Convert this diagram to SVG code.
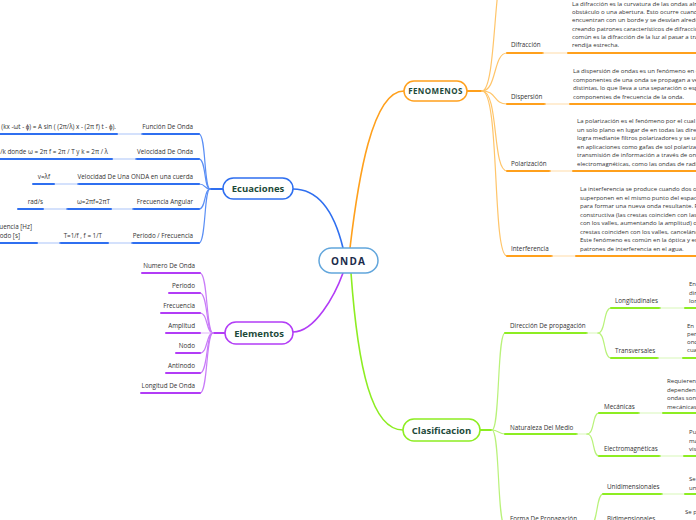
<svg xmlns="http://www.w3.org/2000/svg" width="696" height="520" viewBox="0 0 696 520">
<style>
.lbl{font-family:"Open Sans","Liberation Sans",sans-serif;font-size:6.3px;fill:#333}
.par{font-family:"Open Sans","Liberation Sans",sans-serif;font-size:6.05px;fill:#333}
.nt{font-family:"Open Sans","Liberation Sans",sans-serif;font-weight:bold;font-size:9.5px;fill:#1d4a3a;text-anchor:middle}
.e{text-anchor:end}
path,line{fill:none;stroke-linecap:round}
.ul{stroke-width:2}
.ln{stroke-width:1.2}
.b{stroke:#2f6ff0}.bl{stroke:#a9c4fa}.bc{stroke:#5b8ff5}
.o{stroke:#ffa01c}.ol{stroke:#ffdca8}.oc{stroke:#ffc56a}
.p{stroke:#b23cf6}.pl{stroke:#e2b5fb}.pc{stroke:#c97cf8}
.g{stroke:#8ded22}.gl{stroke:#d8f8b8}.gc{stroke:#b9f27a}
.box{fill:#fff;stroke-width:1.5}
</style>
<g id="connectors">
<path class="b" stroke-width="1.6" d="M293,189 C320,189 335,215 343,248"/>
<path class="o" stroke-width="1.6" d="M350,248 C358,180 372,91 404,91"/>
<path class="p" stroke-width="1.6" d="M343,273 C335,295 315,332 293,332"/>
<path class="g" stroke-width="1.6" d="M351,273 C358,370 372,430 403,430"/>
<line class="b ul" x1="210" y1="189" x2="223" y2="189"/>
<path class="bc ln" d="M199,134 C206,134 204,189 210,189"/>
<path class="bc ln" d="M199,159 C206,159 204,189 210,189"/>
<path class="bc ln" d="M199,184 C206,184 204,189 210,189"/>
<path class="bc ln" d="M199,209 C206,209 204,189 210,189"/>
<path class="bc ln" d="M199,243 C206,243 204,189 210,189"/>
<line class="b ul" x1="142" y1="134" x2="199" y2="134"/>
<line class="bl ln" x1="117" y1="134" x2="142" y2="134"/>
<line class="b ul" x1="-5" y1="134" x2="117" y2="134"/>
<line class="b ul" x1="136" y1="159" x2="199" y2="159"/>
<line class="bl ln" x1="112" y1="159" x2="136" y2="159"/>
<line class="b ul" x1="-5" y1="159" x2="112" y2="159"/>
<line class="b ul" x1="78" y1="184" x2="199" y2="184"/>
<line class="bl ln" x1="54" y1="184" x2="78" y2="184"/>
<line class="b ul" x1="33" y1="184" x2="54" y2="184"/>
<line class="b ul" x1="133" y1="209" x2="199" y2="209"/>
<line class="bl ln" x1="111" y1="209" x2="133" y2="209"/>
<line class="b ul" x1="67" y1="209" x2="111" y2="209"/>
<line class="bl ln" x1="43" y1="209" x2="67" y2="209"/>
<line class="b ul" x1="18" y1="209" x2="43" y2="209"/>
<line class="b ul" x1="132" y1="243" x2="199" y2="243"/>
<line class="bl ln" x1="108" y1="243" x2="132" y2="243"/>
<line class="b ul" x1="60" y1="243" x2="108" y2="243"/>
<line class="bl ln" x1="37" y1="243" x2="60" y2="243"/>
<line class="b ul" x1="-5" y1="243" x2="37" y2="243"/>
<line class="p ul" x1="213" y1="333" x2="225" y2="333"/>
<path class="pc ln" d="M200,273 C208,273 206,333 213,333"/>
<path class="pc ln" d="M200,293 C208,293 206,333 213,333"/>
<path class="pc ln" d="M200,313 C208,313 206,333 213,333"/>
<path class="pl ln" d="M200,333 L213,333"/>
<path class="pc ln" d="M200,353 C208,353 206,333 213,333"/>
<path class="pc ln" d="M200,373 C208,373 206,333 213,333"/>
<path class="pc ln" d="M200,393 C208,393 206,333 213,333"/>
<line class="p ul" x1="142" y1="273" x2="200" y2="273"/>
<line class="p ul" x1="169" y1="293" x2="200" y2="293"/>
<line class="p ul" x1="161" y1="313" x2="200" y2="313"/>
<line class="p ul" x1="166" y1="333" x2="200" y2="333"/>
<line class="p ul" x1="176" y1="353" x2="200" y2="353"/>
<line class="p ul" x1="166" y1="373" x2="200" y2="373"/>
<line class="p ul" x1="141" y1="393" x2="200" y2="393"/>
<line class="o ul" x1="467" y1="91" x2="482" y2="91"/>
<path class="oc ln" d="M482,91 C497,91 493,-40 507,-40"/>
<path class="oc ln" d="M482,91 C497,91 493,53 507,53"/>
<path class="oc ln" d="M482,91 C497,91 493,104 507,104"/>
<path class="oc ln" d="M482,91 C499,91 492,171 507,171"/>
<path class="oc ln" d="M482,91 C500,91 492,256 507,256"/>
<line class="o ul" x1="507" y1="53" x2="543" y2="53"/>
<line class="ol ln" x1="543" y1="53" x2="568" y2="53"/>
<line class="o ul" x1="568" y1="53" x2="700" y2="53"/>
<line class="o ul" x1="507" y1="104" x2="545" y2="104"/>
<line class="ol ln" x1="545" y1="104" x2="570" y2="104"/>
<line class="o ul" x1="570" y1="104" x2="700" y2="104"/>
<line class="o ul" x1="507" y1="171" x2="550" y2="171"/>
<line class="ol ln" x1="550" y1="171" x2="573" y2="171"/>
<line class="o ul" x1="573" y1="171" x2="700" y2="171"/>
<line class="o ul" x1="507" y1="256" x2="552" y2="256"/>
<line class="ol ln" x1="552" y1="256" x2="576" y2="256"/>
<line class="o ul" x1="576" y1="256" x2="700" y2="256"/>
<line class="g ul" x1="480" y1="430" x2="492" y2="430"/>
<path class="gc ln" d="M492,430 C500,430 497,333 505,333"/>
<path class="gc ln" d="M492,430 C498,430 499,434 505,434"/>
<path class="gc ln" d="M492,430 C500,430 497,526 505,526"/>
<line class="g ul" x1="505" y1="333" x2="587" y2="333"/>
<line class="gl ln" x1="587" y1="333" x2="598" y2="333"/>
<path class="gc ln" d="M598,333 C606,333 603,308 611,308"/>
<path class="gc ln" d="M598,333 C606,333 603,358 611,358"/>
<line class="g ul" x1="611" y1="308" x2="660" y2="308"/>
<line class="gl ln" x1="660" y1="308" x2="685" y2="308"/>
<line class="g ul" x1="685" y1="308" x2="700" y2="308"/>
<line class="g ul" x1="611" y1="358" x2="658" y2="358"/>
<line class="gl ln" x1="658" y1="358" x2="683" y2="358"/>
<line class="g ul" x1="683" y1="358" x2="700" y2="358"/>
<line class="g ul" x1="505" y1="434" x2="577" y2="434"/>
<line class="gl ln" x1="577" y1="434" x2="587" y2="434"/>
<path class="gc ln" d="M587,434 C595,434 592,413 599,413"/>
<path class="gc ln" d="M587,434 C595,434 592,456 599,456"/>
<line class="g ul" x1="599" y1="413" x2="639" y2="413"/>
<line class="gl ln" x1="639" y1="413" x2="663" y2="413"/>
<line class="g ul" x1="663" y1="413" x2="700" y2="413"/>
<line class="g ul" x1="599" y1="456" x2="660" y2="456"/>
<line class="gl ln" x1="660" y1="456" x2="684" y2="456"/>
<line class="g ul" x1="684" y1="456" x2="700" y2="456"/>
<path class="gc ln" d="M590,526 C598,526 596,494 603,494"/>
<line class="g ul" x1="603" y1="494" x2="662" y2="494"/>
<line class="gl ln" x1="662" y1="494" x2="685" y2="494"/>
<line class="g ul" x1="685" y1="494" x2="700" y2="494"/>
</g>
<g id="onda">
<rect class="box" x="319" y="248" width="59" height="25" rx="12.5" stroke="#62a6dc"/>
<text x="348.5" y="264.5" style="font-family:'Open Sans','Liberation Sans',sans-serif;font-weight:bold;font-size:10px;fill:#1b2b4b;letter-spacing:1.2px" text-anchor="middle">ONDA</text>
</g>
<g id="fenomenos">
<rect class="box o" x="404" y="81" width="63" height="20" rx="10"/>
<text class="nt" x="435.5" y="94" style="font-size:8px;letter-spacing:0.4px">FENOMENOS</text>
</g>
<g id="ecuaciones">
<rect class="box b" x="223" y="178" width="70" height="21" rx="10.5"/>
<text class="nt" x="258" y="192">Ecuaciones</text>
</g>
<g id="elementos">
<rect class="box p" x="225" y="322" width="68" height="22" rx="11"/>
<text class="nt" x="259" y="336.5">Elementos</text>
</g>
<g id="clasificacion">
<rect class="box g" x="403" y="419" width="77" height="22" rx="11"/>
<text class="nt" x="441.5" y="433.5">Clasificacion</text>
</g>
<g id="ecuaciones-children">
<text class="lbl e" x="193" y="128.5">Función De Onda</text>
<text class="lbl e" x="116" y="128.5">A sin (kx -ωt - ϕ) = A sin ( (2π/λ) x - (2π f) t - ϕ).</text>
<text class="lbl e" x="193" y="153.5">Velocidad De Onda</text>
<text class="lbl e" x="108" y="153.5">v = ω /k donde ω = 2π f = 2π / T y k = 2π / λ</text>
<text class="lbl e" x="193" y="178.5">Velocidad De Una ONDA en una cuerda</text>
<text class="lbl e" x="50" y="178.5">v=λf</text>
<text class="lbl e" x="193" y="203.5">Frecuencia Angular</text>
<text class="lbl e" x="110" y="203.5">ω=2πf=2πT</text>
<text class="lbl e" x="43" y="203.5">rad/s</text>
<text class="lbl e" x="193" y="238">Periodo / Frecuencia</text>
<text class="lbl e" x="102" y="238">T=1/f , f = 1/T</text>
<text class="lbl e" x="32" y="229">Frecuencia [Hz]</text>
<text class="lbl e" x="20" y="238">Periodo [s]</text>
</g>
<g id="elementos-children">
<text class="lbl e" x="195" y="268">Numero De Onda</text>
<text class="lbl e" x="195" y="288">Periodo</text>
<text class="lbl e" x="195" y="308">Frecuencia</text>
<text class="lbl e" x="195" y="328">Amplitud</text>
<text class="lbl e" x="195" y="348">Nodo</text>
<text class="lbl e" x="195" y="368">Antinodo</text>
<text class="lbl e" x="195" y="388">Longitud De Onda</text>
</g>
<g id="fenomenos-children">
<text class="lbl" x="511" y="47">Difracción</text>
<text class="par" x="572"><tspan x="572" y="6.2">La difracción es la curvatura de las ondas alrededor de un</tspan><tspan x="572" y="14.3">obstáculo o una abertura. Esto ocurre cuando las ondas</tspan><tspan x="572" y="22.4">encuentran con un borde y se desvían alrededor de él,</tspan><tspan x="572" y="30.5">creando patrones característicos de difracción. Un ejemplo</tspan><tspan x="572" y="38.6">común es la difracción de la luz al pasar a través de una</tspan><tspan x="572" y="46.7">rendija estrecha.</tspan></text>
<text class="lbl" x="511" y="99">Dispersión</text>
<text class="par" x="573"><tspan x="573" y="73">La dispersión de ondas es un fenómeno en el que los</tspan><tspan x="573" y="81.6">componentes de una onda se propagan a velocidades</tspan><tspan x="573" y="90.2">distintas, lo que lleva a una separación o esparcimiento de los</tspan><tspan x="573" y="98.8">componentes de frecuencia de la onda.</tspan></text>
<text class="lbl" x="511" y="166">Polarización</text>
<text class="par" x="577"><tspan x="577" y="123">La polarización es el fenómeno por el cual las ondas vibran en</tspan><tspan x="577" y="131.6">un solo plano en lugar de en todas las direcciones. Esto se</tspan><tspan x="577" y="140.2">logra mediante filtros polarizadores y se utiliza</tspan><tspan x="577" y="148.8">en aplicaciones como gafas de sol polarizadas y la</tspan><tspan x="577" y="157.4">transmisión de información a través de ondas</tspan><tspan x="577" y="166">electromagnéticas, como las ondas de radio.</tspan></text>
<text class="lbl" x="511" y="251">Interferencia</text>
<text class="par" x="580"><tspan x="580" y="191"> La interferencia se produce cuando dos ondas se</tspan><tspan x="580" y="199.6">superponen en el mismo punto del espacio</tspan><tspan x="580" y="208.1">para formar una nueva onda resultante. Puede ser</tspan><tspan x="580" y="216.7">constructiva (las crestas coinciden con las crestas y los valles</tspan><tspan x="580" y="225.3">con los valles, aumentando la amplitud) o destructiva (las</tspan><tspan x="580" y="233.9">crestas coinciden con los valles, cancelándose).</tspan><tspan x="580" y="242.4">Este fenómeno es común en la óptica y en los</tspan><tspan x="580" y="251">patrones de interferencia en el agua.</tspan></text>
</g>
<g id="clasificacion-children">
<text class="lbl" x="510" y="328">Dirección De propagación</text>
<text class="lbl" x="615" y="303">Longitudinales</text>
<text class="par"><tspan x="689" y="286">En a</tspan><tspan x="689" y="294.5">dir</tspan><tspan x="689" y="303">lon</tspan></text>
<text class="lbl" x="615" y="353">Transversales</text>
<text class="par"><tspan x="687" y="328">En</tspan><tspan x="687" y="336">per</tspan><tspan x="687" y="344">ond</tspan><tspan x="687" y="352">cua</tspan></text>
<text class="lbl" x="510" y="430">Naturaleza Del Medio</text>
<text class="lbl" x="604" y="409">Mecánicas</text>
<text class="par"><tspan x="667" y="383">Requieren a</tspan><tspan x="667" y="391.5">dependen</tspan><tspan x="667" y="400">ondas sono</tspan><tspan x="667" y="408.5">mecánicas</tspan></text>
<text class="lbl" x="604" y="451">Electromagnéticas</text>
<text class="par"><tspan x="689" y="434">Pu</tspan><tspan x="689" y="442.5">ma</tspan><tspan x="689" y="451">vis</tspan></text>
<text class="lbl" x="510" y="521">Forma De Propagación</text>
<text class="lbl" x="607" y="489">Unidimensionales</text>
<text class="par"><tspan x="689" y="481">Se</tspan><tspan x="689" y="489.5">un</tspan></text>
<text class="lbl" x="607" y="521">Bidimensionales</text>
<text class="par"><tspan x="685" y="514">Se p</tspan></text>
</g>
</svg>
